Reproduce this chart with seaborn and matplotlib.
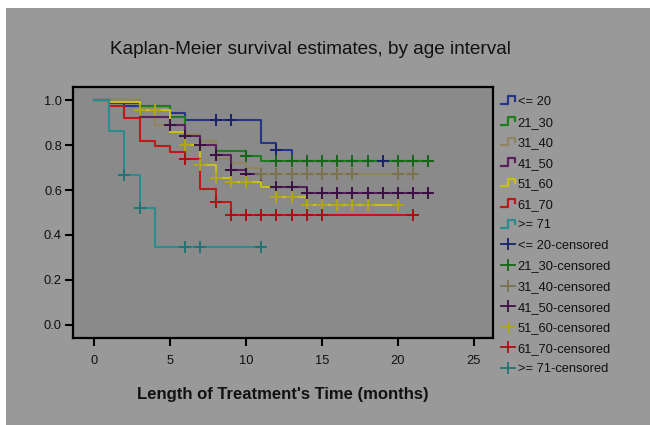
import numpy as np
import pandas as pd
import matplotlib
matplotlib.use("Agg")
import matplotlib.pyplot as plt
import seaborn as sns
from matplotlib.lines import Line2D
from matplotlib.legend_handler import HandlerBase

# ---------------- data ----------------
groups = ["<= 20", "21_30", "31_40", "41_50", "51_60", "61_70", ">= 71"]

le20_t = [0, 2, 5, 6, 11, 12, 13, 22]
le20_s = [1.0, 0.975, 0.944, 0.911, 0.81, 0.778, 0.73, 0.73]
le20_c = [8, 9, 12, 19, 22]

g21_t = [0, 3, 5, 6, 7, 8, 10, 11, 22]
g21_s = [1.0, 0.975, 0.926, 0.845, 0.82, 0.775, 0.753, 0.73, 0.73]
g21_c = [10, 12, 13, 14, 15, 16, 17, 18, 20, 21, 22]

g31_t = [0, 3, 4, 6, 7, 8, 9, 10, 11, 21]
g31_s = [1.0, 0.96, 0.89, 0.85, 0.82, 0.74, 0.72, 0.70, 0.67, 0.67]
g31_c = [11, 12, 13, 14, 15, 16, 17, 20, 21]

g41_t = [0, 1, 3, 5, 6, 7, 8, 9, 10, 11, 14, 22]
g41_s = [1.0, 0.985, 0.925, 0.89, 0.84, 0.80, 0.755, 0.69, 0.67, 0.615, 0.585, 0.585]
g41_c = [5, 6, 7, 8, 9, 10, 12, 13, 14, 15, 16, 17, 18, 19, 20, 21, 22]

g51_t = [0, 1, 3, 5, 6, 7, 8, 9, 11, 12, 14, 20]
g51_s = [1.0, 0.993, 0.955, 0.86, 0.80, 0.71, 0.655, 0.637, 0.615, 0.57, 0.533, 0.533]
g51_c = [3, 4, 6, 7, 8, 9, 10, 12, 13, 14, 15, 16, 17, 18, 20]

g61_t = [0, 1, 2, 3, 4, 5, 6, 7, 8, 9, 21]
g61_s = [1.0, 0.973, 0.921, 0.82, 0.796, 0.77, 0.74, 0.604, 0.548, 0.489, 0.489]
g61_c = [6, 8, 9, 10, 11, 12, 13, 14, 15, 21]

g71_t = [0, 1, 2, 3, 4, 11]
g71_s = [1.0, 0.864, 0.667, 0.52, 0.345, 0.345]
g71_c = [2, 3, 6, 7, 11]

curve_t = [le20_t, g21_t, g31_t, g41_t, g51_t, g61_t, g71_t]
curve_s = [le20_s, g21_s, g31_s, g41_s, g51_s, g61_s, g71_s]
cens_t = [le20_c, g21_c, g31_c, g41_c, g51_c, g61_c, g71_c]

xticks = [0, 5, 10, 15, 20, 25]
yticks = [0.0, 0.2, 0.4, 0.6, 0.8, 1.0]

colors = ["#26348a", "#1e7d1e", "#8f8660", "#5a1f5e", "#c8c01a", "#c01818", "#2a8c8c"]
cens_colors = ["#18236a", "#176517", "#7a7250", "#3a1040", "#b0a810", "#a81010", "#1f7575"]

# ---------------- frames ----------------
rows = []
for g, ts, ss in zip(groups, curve_t, curve_s):
    for t, s in zip(ts, ss):
        rows.append((g, t, s))
curves = pd.DataFrame(rows, columns=["group", "time", "surv"])

crow = []
for g, ts, ss, cs in zip(groups, curve_t, curve_s, cens_t):
    for c in cs:
        idx = np.searchsorted(ts, c, side="right") - 1
        crow.append((g, c, ss[idx]))
cens = pd.DataFrame(crow, columns=["group", "time", "surv"])

# ---------------- plot ----------------
plt.rcParams["font.family"] = ["Liberation Sans", "DejaVu Sans"]
fig = plt.figure(figsize=(6.5, 4.25), dpi=100)
fig.patch.set_facecolor("white")
fig.patches.append(plt.Rectangle((6 / 650, 0), 1, 1 - 8 / 425, transform=fig.transFigure,
                                 facecolor="#999999", edgecolor="none", zorder=-10))
ax = fig.add_axes([73 / 650, 1 - 338 / 425, (493 - 73) / 650, (338 - 87) / 425])
ax.set_facecolor("#8a8a8a")

sns.lineplot(data=curves, x="time", y="surv", hue="group", hue_order=groups,
             palette=colors, estimator=None, drawstyle="steps-post", lw=1.5,
             legend=False, ax=ax, sort=False)
for g, cc in zip(groups, cens_colors):
    sub = cens[cens["group"] == g]
    sns.scatterplot(data=sub, x="time", y="surv", color=cc, marker="+", s=70,
                    linewidth=1.4, legend=False, ax=ax, zorder=5)

ax.set_xlim(-1.38, 26.25)
ax.set_ylim(-0.058, 1.058)
ax.set_xticks(xticks)
ax.set_yticks(yticks)
ax.set_yticklabels([f"{v:.1f}" for v in yticks])
ax.tick_params(axis="both", direction="out", length=6, width=1.5, color="black",
               labelsize=9.3, labelcolor="#111111")
ax.tick_params(axis="x", pad=6)
ax.tick_params(axis="y", pad=2)
for sp in ax.spines.values():
    sp.set_color("black")
    sp.set_linewidth(1.6)
ax.set_xlabel("Length of Treatment's Time (months)", fontsize=12, fontweight="bold",
              color="#111111", labelpad=15)
ax.set_ylabel("")

fig.text(0.478, 1 - 49 / 425, "Kaplan-Meier survival estimates, by age interval",
         ha="center", va="center", fontsize=13.7, color="#111111")


class HandlerStep(HandlerBase):
    def create_artists(self, legend, orig_handle, xdescent, ydescent, width, height,
                       fontsize, trans):
        x0, w = -xdescent, width
        y0, h = -ydescent, height
        xs = [x0, x0 + 0.5 * w, x0 + 0.5 * w, x0 + w, x0 + w]
        ys = [y0 + 0.1 * h, y0 + 0.1 * h, y0 + 0.95 * h, y0 + 0.95 * h, y0 + 0.5 * h]
        ln = Line2D(xs, ys, color=orig_handle.get_color(), lw=1.6)
        ln.set_transform(trans)
        return [ln]


handles, labels, hmap = [], [], {}
for g, c in zip(groups, colors):
    h = Line2D([], [], color=c)
    handles.append(h)
    labels.append(g)
    hmap[h] = HandlerStep()
for g, c in zip(groups, cens_colors):
    handles.append(Line2D([0], [0], color=c, lw=1.3, marker="|", markersize=9,
                          markeredgewidth=1.3))
    labels.append(f"{g}-censored")

fig.legend(handles, labels, handler_map=hmap, loc="upper left",
           bbox_to_anchor=(501 / 650, 1 - 96 / 425), frameon=False, fontsize=9.3,
           handlelength=1.1, handletextpad=0.2, labelspacing=0.66, borderaxespad=0,
           borderpad=0, labelcolor="#111111")

fig.savefig("out.png", dpi=100, facecolor=fig.get_facecolor())
